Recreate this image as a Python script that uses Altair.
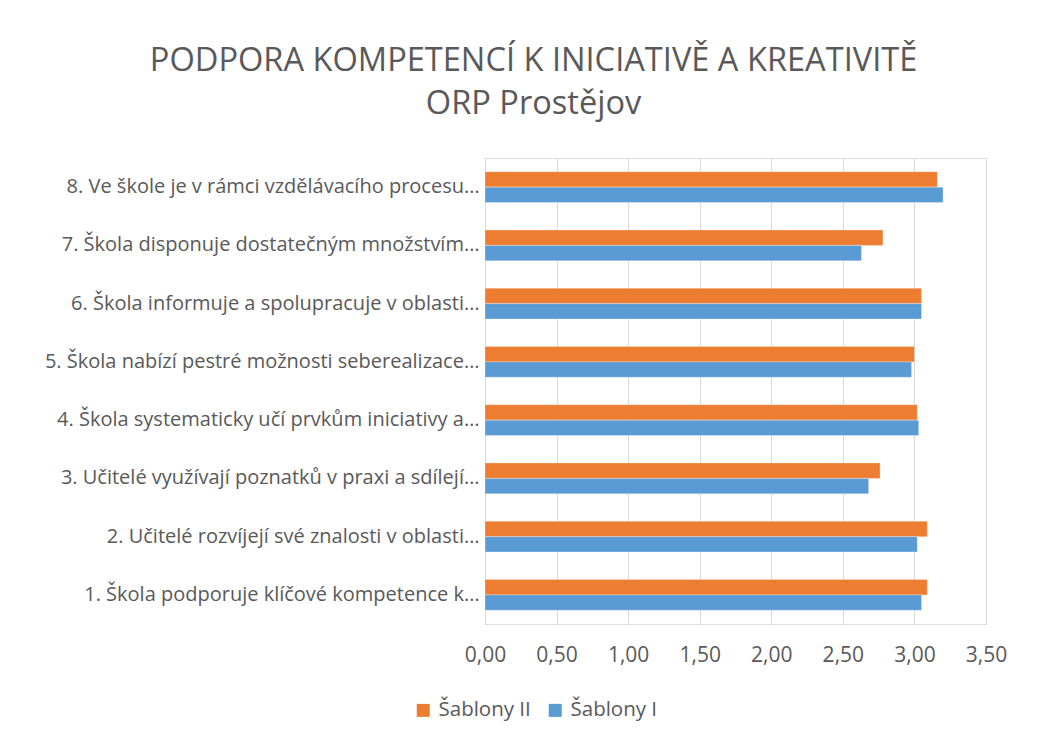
import altair as alt
import pandas as pd

categories = [
    "1. Škola podporuje klíčové kompetence k…",
    "2. Učitelé rozvíjejí své znalosti v oblasti…",
    "3. Učitelé využívají poznatků v praxi a sdílejí…",
    "4. Škola systematicky učí prvkům iniciativy a…",
    "5. Škola nabízí pestré možnosti seberealizace…",
    "6. Škola informuje a spolupracuje v oblasti…",
    "7. Škola disponuje dostatečným množstvím…",
    "8. Ve škole je v rámci vzdělávacího procesu…",
]
sablony_ii = [3.09, 3.09, 2.76, 3.02, 3.00, 3.05, 2.78, 3.16]
sablony_i = [3.05, 3.02, 2.68, 3.03, 2.98, 3.05, 2.63, 3.20]
series = ["Šablony II", "Šablony I"]
colors = ["#ED7D31", "#5B9BD5"]
x_ticks = [0, 0.5, 1.0, 1.5, 2.0, 2.5, 3.0, 3.5]

rows = []
for c, v2, v1 in zip(categories, sablony_ii, sablony_i):
    rows.append({"kategorie": c, "rada": series[0], "hodnota": v2})
    rows.append({"kategorie": c, "rada": series[1], "hodnota": v1})
df = pd.DataFrame(rows)

FONT = "Open Sans"
TXT = "#595959"

chart = alt.Chart(df).mark_bar(stroke="white", strokeWidth=0.5, strokeOpacity=0.6).encode(
    y=alt.Y("kategorie:N", sort=list(reversed(categories)),
            scale=alt.Scale(paddingInner=0.47, paddingOuter=0.235),
            axis=alt.Axis(title=None, ticks=False, domain=True, domainColor="#D9D9D9",
                          labelColor=TXT, labelFont=FONT, labelFontSize=20,
                          labelLimit=600, labelPadding=6)),
    yOffset=alt.YOffset("rada:N", sort=series),
    x=alt.X("hodnota:Q", scale=alt.Scale(domain=[0, 3.5], nice=False),
            axis=alt.Axis(title=None, values=x_ticks, ticks=False, domain=False,
                          grid=True, gridColor="#D9D9D9", gridWidth=1,
                          labelExpr="replace(format(datum.value, '.2f'), '.', ',')",
                          labelFlush=False,
                          labelColor=TXT, labelFont=FONT, labelFontSize=21,
                          labelPadding=20)),
    color=alt.Color("rada:N", sort=series,
                    scale=alt.Scale(domain=series, range=colors),
                    legend=alt.Legend(title=None, orient="none", direction="horizontal",
                                      legendX=-72, legendY=542, symbolType="square",
                                      symbolSize=169, symbolStrokeWidth=0,
                                      labelFont=FONT, labelFontSize=20.5, labelColor=TXT,
                                      labelOffset=5, columnPadding=14)),
).properties(
    width=501,
    height=466,
    title=alt.TitleParams(
        text=["PODPORA KOMPETENCÍ K INICIATIVĚ A KREATIVITĚ", "ORP Prostějov"],
        font=FONT, fontSize=32.6, fontWeight="normal", color=TXT,
        anchor="middle", frame="bounds", offset=37, lineHeight=43, dx=8,
    ),
    autosize=alt.AutoSizeParams(type="none"),
    padding={"left": 477, "top": 150, "right": 44, "bottom": 100},
).configure_view(stroke=None).configure(background="white")

chart.save("out.html", embed_options={"renderer": "svg", "actions": False})
